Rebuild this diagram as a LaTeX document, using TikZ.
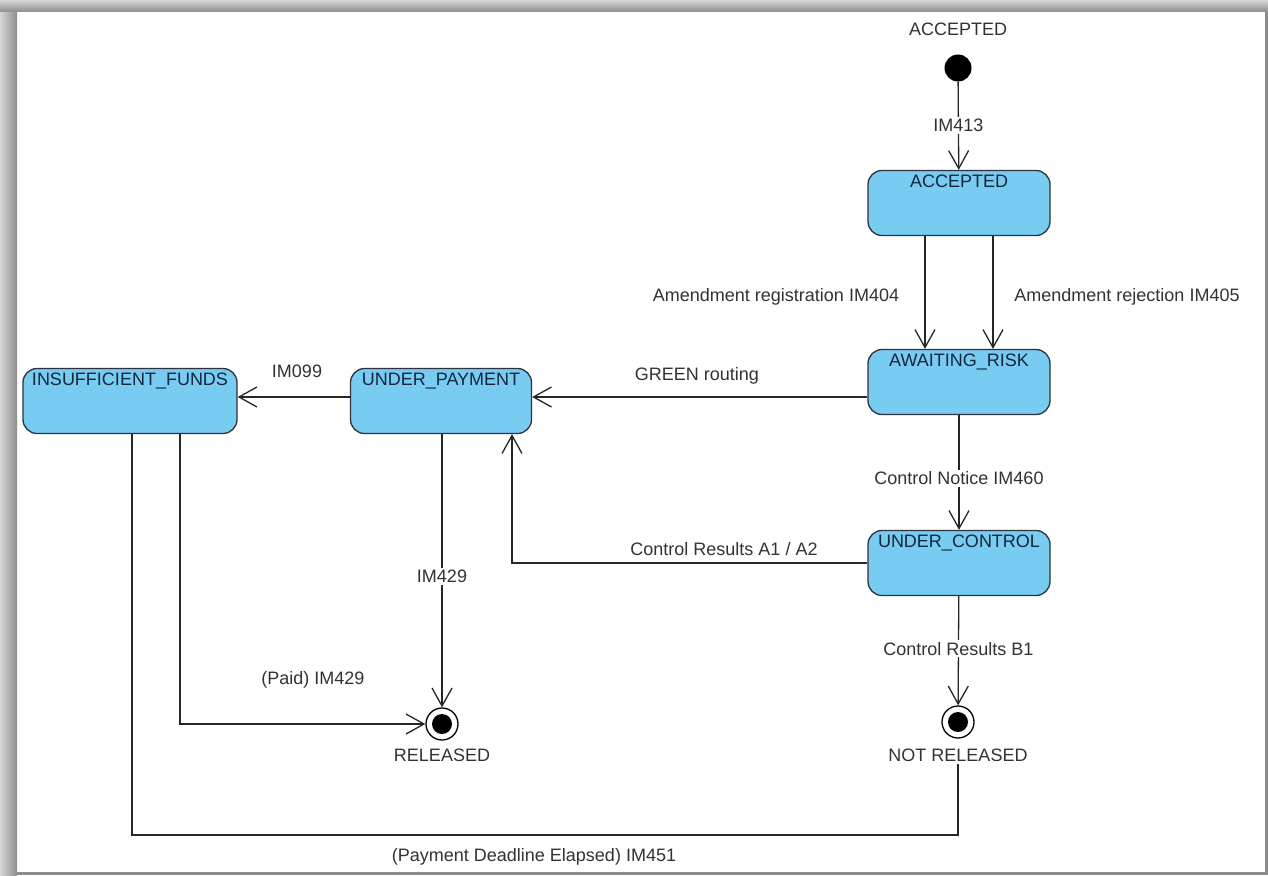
\documentclass[tikz,border=0pt]{standalone}
\usepackage{fontspec}
\setmainfont{Liberation Sans}
\usetikzlibrary{arrows.meta}
\definecolor{statefill}{RGB}{120,204,242}
\definecolor{stateline}{RGB}{45,50,60}
\definecolor{statetext}{RGB}{20,38,60}
\definecolor{labeltext}{RGB}{50,50,50}
\definecolor{framegray}{RGB}{140,140,140}
\begin{document}
\begin{tikzpicture}[x = 1pt, y = -1pt,
                statebox/.style = {draw = stateline, fill = statefill, line width = 1.3pt, rounded corners = 14pt,
                    minimum width = 182pt, text height = 13pt, text depth = 44pt, inner ysep = 4pt, inner xsep = 2pt,
                    text = statetext, font = \fontsize{18}{21}\selectfont},
                lbl/.style = {text = labeltext, font = \fontsize{18}{21}\selectfont, inner sep = 2pt},
                trans/.style = {draw = black!85, line width = 1.3pt, -{Straight Barb[length=18pt, width=20pt]}},
                link/.style = {draw = black!85, line width = 1.3pt},
                startdot/.style = {circle, fill = black, minimum size = 27pt, inner sep = 0pt},
                enddot/.style = {circle, draw = black, line width = 1.3pt, fill = white, minimum size = 32pt, inner sep = 0pt,
                    path picture = {\fill[black] (path picture bounding box.center) circle (10pt);}}]
                \useasboundingbox (0,0) rectangle (1268,875);
                \shade[left color = framegray!35, right color = framegray] (0,0) rectangle (17,875);
                \shade[top color = framegray!35, bottom color = framegray] (0,0) rectangle (1268,12);
                \fill[framegray] (1265,12) rectangle (1268,875);
                \fill[framegray] (17,872) rectangle (1268,875);

                \node[startdot] (init) at (958,68) {};
                \node[lbl] (initlbl) at (958,29) {ACCEPTED};
                \node[statebox] (acc) at (959,203) {ACCEPTED};
                \node[statebox] (risk) at (959,382) {AWAITING\_RISK};
                \node[statebox] (ctrl) at (959,563) {UNDER\_CONTROL};
                \node[statebox, minimum width = 181pt] (pay) at (441,401) {UNDER\_PAYMENT};
                \node[statebox, minimum width = 214pt] (funds) at (130,401) {INSUFFICIENT\_FUNDS};
                \node[enddot] (rel) at (442,724) {};
                \node[lbl] (rellbl) at (442,755) {RELEASED};
                \node[enddot] (nrel) at (958,722) {};
                \node[lbl] (nrellbl) at (958,755) {NOT RELEASED};

                \draw[trans] (init) -- node[lbl, fill = white, pos = 0.5] {IM413} (acc);
                \draw[trans] (acc.south -| 925,0) -- (risk.north -| 925,0);
                \draw[trans] (acc.south -| 993,0) -- (risk.north -| 993,0);
                \node[lbl] at (776,297) {Amendment registration IM404};
                \node[lbl] at (1127,297) {Amendment rejection IM405};
                \draw[trans] (risk.west |- 0,397) -- (pay.east |- 0,397);
                \node[lbl] at (697,376) {GREEN routing};
                \draw[trans] (pay.west |- 0,397) -- (funds.east |- 0,397);
                \node[lbl] at (297,371) {IM099};
                \draw[trans] (risk) -- node[lbl, fill = white, pos = 0.55] {Control Notice IM460} (ctrl);
                \draw[trans] (ctrl.west) -| (pay.south -| 512,0);
                \node[lbl] at (724,549) {Control Results A1 / A2};
                \draw[trans] (ctrl) -- node[lbl, fill = white, pos = 0.48] {Control Results B1} (nrel);
                \draw[trans] (pay.south -| rel.north) -- node[lbl, fill = white, pos = 0.52] {IM429} (rel);
                \draw[trans] (funds.south -| 180,0) |- (rel.west);
                \node[lbl] at (313,680) {(Paid) IM429};
                \draw[link] (funds.south -| 132,0) -- (132,835) -| (nrellbl.south);
                \node[lbl] at (534,857) {(Payment Deadline Elapsed) IM451};

            \end{tikzpicture}
\end{document}
